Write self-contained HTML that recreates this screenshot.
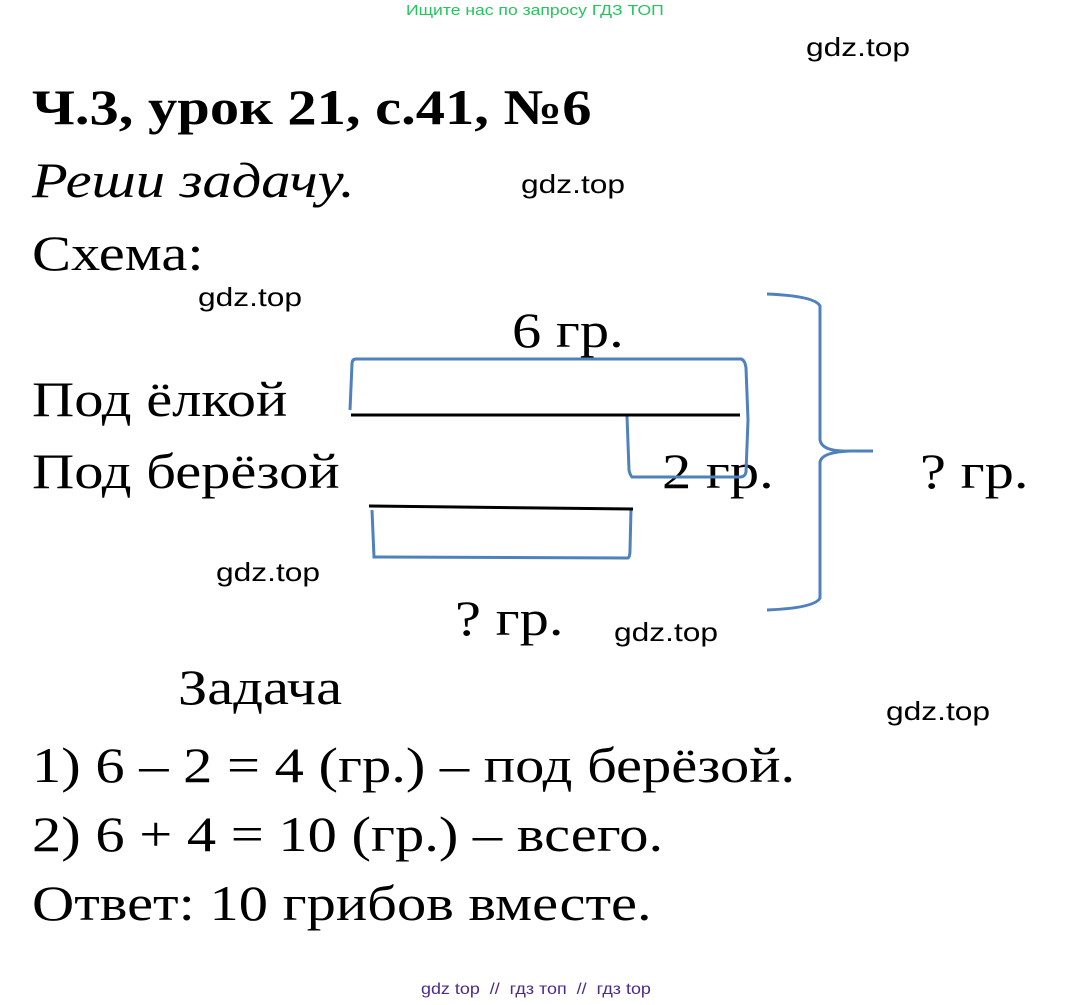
<!DOCTYPE html>
<html><head><meta charset="utf-8"><style>
body{margin:0;width:1072px;height:1005px;background:#fff;position:relative;overflow:hidden;font-family:"Liberation Serif",serif;}
.t{position:absolute;white-space:nowrap;color:#000;line-height:1;transform:scaleX(1.17);transform-origin:0 0;}
.s{font-size:50px;}
.g{position:absolute;font-family:"Liberation Sans",sans-serif;font-size:26px;color:#000;white-space:nowrap;line-height:1;transform:scaleX(1.22);transform-origin:0 0;}
</style></head><body>
<div class="g" style="left:406px;top:3px;font-size:15px;color:#22c55e;transform:scaleX(1.17)">Ищите нас по запросу ГДЗ ТОП</div>
<div class="g" style="left:806px;top:34px">gdz.top</div>
<div class="t" style="left:32px;top:82px;font-size:50px;font-weight:bold">Ч.3, урок 21, с.41, №6</div>
<div class="t s" style="left:32px;top:155px;font-style:italic">Реши задачу.</div>
<div class="g" style="left:521px;top:171px">gdz.top</div>
<div class="t s" style="left:32px;top:228px">Схема:</div>
<div class="g" style="left:198px;top:284px">gdz.top</div>
<div class="t s" style="left:512px;top:305px">6 гр.</div>
<div class="t s" style="left:32px;top:374px">Под ёлкой</div>
<div class="t s" style="left:32px;top:446px">Под берёзой</div>
<div class="t s" style="left:662px;top:446px">2 гр.</div>
<div class="t s" style="left:920px;top:446px">? гр.</div>
<div class="g" style="left:216px;top:559px">gdz.top</div>
<div class="t s" style="left:455px;top:593px">? гр.</div>
<div class="g" style="left:614px;top:619px">gdz.top</div>
<div class="t s" style="left:178px;top:662px">Задача</div>
<div class="g" style="left:886px;top:698px">gdz.top</div>
<div class="t s" style="left:32px;top:740px">1) 6 – 2 = 4 (гр.) – под берёзой.</div>
<div class="t s" style="left:32px;top:809px">2) 6 + 4 = 10 (гр.) – всего.</div>
<div class="t s" style="left:32px;top:878px">Ответ: 10 грибов вместе.</div>
<div class="g" style="left:421px;top:982px;font-size:16px;color:#4b2a8a;transform:scaleX(1.12)">gdz top &nbsp;// &nbsp;гдз топ &nbsp;// &nbsp;гдз top</div>
<svg width="1072" height="1005" style="position:absolute;left:0;top:0" fill="none">
<g stroke="#4f81bd" stroke-width="3">
<path d="M350 410 L352 364 Q352 359 356 359 L741 359 Q745 360 746 368 L748 420 L746 472 Q745 477 740 477 L632 477 Q630 475 629 470 L627 416"/>
<path d="M372 510 L374 557 L628 558 Q630 557 630 550 L631 509"/>
<path d="M767 294 Q815 296 820 306 L820 440 Q822 452 850 451 L873 451 M850 451 Q822 452 820 462 L820 598 Q815 608 767 610"/>
</g>
<g stroke="#000" stroke-width="3">
<path d="M351 415 L740 415"/>
<path d="M369 506 L633 509"/>
</g>
</svg>
</body></html>
